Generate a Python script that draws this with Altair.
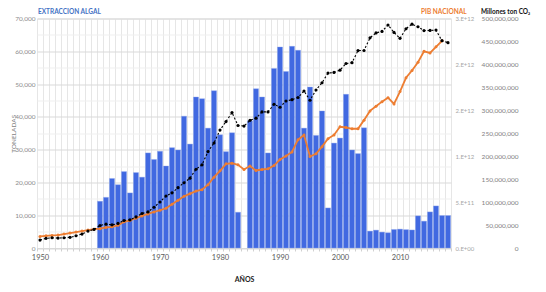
import altair as alt
import pandas as pd

# ---- data ----
YEARS = list(range(1950, 2019))

# Extracción algal (toneladas), 1950-2018 (None = no bar)
ALGAE = [None] * 10 + [
    14240, 15450, 21200, 19300, 23300, 16800, 23000, 21600, 29000, 27000,   # 1960s
    29500, 25000, 30600, 29900, 40200, 31700, 46050, 45550, 36560, 47970,   # 1970s
    34540, 29390, 35150, 10900, None, 38800, 48580, 46060, 28990, 54740,    # 1980s
    61300, 53830, 61500, 60300, 36560, 49090, 34340, 41800, 12220, 32000,   # 1990s
    33530, 46860, 29900, 28790, 36660, 5150, 5450, 4850, 4650, 5650,        # 2000s
    5760, 5600, 5500, 9800, 8180, 11010, 12830, 9900, 9900,                 # 2010s
]

# PIB nacional (miles de millones), 1950-2017
PIB_BN = [
    126.6, 133.1, 137.5, 140.7, 151.5, 162.3, 173.2, 184.0, 194.8, 205.6,
    211.0, 224.0, 230.5, 248.9, 284.6, 299.8, 324.7, 349.6, 371.2, 392.9,
    411.3, 432.9, 476.2, 519.5, 562.8, 592.0, 620.2, 635.3, 689.4, 771.7,
    841.0, 916.7, 923.2, 905.9, 855.0, 892.9, 844.2, 855.0, 862.6, 898.3,
    963.2, 1003.3, 1046.6, 1179.7, 1230.6, 995.7, 1026.0, 1103.9, 1190.5, 1231.7,
    1320.4, 1312.8, 1298.8, 1298.8, 1392.9, 1493.6, 1544.4, 1594.2, 1637.5, 1569.3,
    1704.6, 1854.0, 1934.1, 2023.9, 2142.9, 2124.5, 2191.6, 2256.6, None,
]

# Emisiones CO2 (millones de ton), 1950-2018
CO2_M = [
    17.3, 21.0, 22.3, 21.6, 22.3, 23.2, 26.6, 30.3, 36.8, 40.5,
    49.1, 51.9, 50.4, 53.5, 60.0, 61.3, 67.7, 75.1, 78.6, 88.7,
    100.2, 113.2, 120.1, 131.4, 142.2, 152.2, 171.6, 181.2, 210.0, 228.8,
    256.9, 275.5, 295.0, 266.9, 265.6, 278.1, 282.9, 296.5, 296.5, 313.2,
    306.7, 320.3, 323.2, 327.9, 342.0, 321.9, 344.2, 360.0, 381.0, 382.5,
    387.4, 401.9, 403.7, 430.1, 430.3, 457.8, 468.6, 471.9, 485.9, 469.7,
    456.7, 477.7, 487.7, 482.0, 473.6, 474.0, 474.7, 451.7, 447.4,
]

LEFT_TICKS = list(range(0, 70001, 5000))
PIB_TICKS = [0, 5e11, 1e12, 1.5e12, 2e12, 2.5e12]
PIB_LABELS = ["0.E+00", "5.E+11", "1.E+12", "2.E+12", "2.E+12", "3.E+12"]
CO2_TICKS = list(range(0, 500000001, 50000000))

df = pd.DataFrame({
    "year": YEARS,
    "algae": ALGAE,
    "pib": [None if v is None else v * 1e9 for v in PIB_BN],
    "co2": [v * 1e6 for v in CO2_M],
})

FONT = "Lato"
PLOT_H = 229.5

pib_expr = " : ".join(
    f"datum.value < {(PIB_TICKS[i] + PIB_TICKS[i + 1]) / 2:.0f} ? '{PIB_LABELS[i]}'"
    for i in range(len(PIB_TICKS) - 1)
) + f" : '{PIB_LABELS[-1]}'"

x_enc = alt.X(
    "year:O",
    scale=alt.Scale(domain=YEARS, paddingInner=0.15, paddingOuter=0.075),
    axis=alt.Axis(
        values=YEARS,
        labelExpr="datum.value % 10 == 0 ? datum.label : ''",
        labelAngle=0, labelOverlap=False, labelFlush=False,
        tickBand="extent", grid=True, gridColor="#e6e6e6", gridWidth=1,
        ticks=True, tickSize=3, tickColor="#d0d0d0",
        domainColor="#d9d9d9",
        labelColor="#595959", labelFont=FONT, labelFontSize=7.5, labelPadding=2,
        title="AÑOS", titleFont=FONT, titleFontSize=7, titleFontWeight="bold",
        titleColor="#222222", titleY=31, titleBaseline="middle",
    ),
)

bars = alt.Chart(df).mark_bar(color="#4169E1", stroke="#8ea6f0", strokeWidth=0.4).encode(
    x=x_enc,
    y=alt.Y(
        "algae:Q",
        scale=alt.Scale(domain=[0, 70000], nice=False),
        axis=alt.Axis(
            orient="left", values=LEFT_TICKS, format=",.0f",
            labelExpr="datum.value % 10000 == 0 ? datum.label : ''",
            grid=True,
            gridColor={"condition": {"test": "datum.value % 10000 == 0", "value": "#d9d9d9"},
                       "value": "#efefef"},
            domain=False, ticks=False, tickSize=0, labelPadding=2,
            labelColor="#8c8c8c", labelFont=FONT, labelFontSize=6.5,
            title="TONELADAS", titleFont=FONT, titleFontSize=6.5, titleFontWeight="normal",
            titleColor="#7f7f7f", titleAngle=-90, titleX=-24, titleY=PLOT_H / 2,
            titleAlign="center", titleBaseline="middle",
        ),
    ),
)

pib = alt.Chart(df).mark_line(
    color="#ED7D31", strokeWidth=1.8,
    point=alt.OverlayMarkDef(filled=True, color="#ED7D31", size=9),
).encode(
    x=alt.X("year:O"),
    y=alt.Y(
        "pib:Q",
        scale=alt.Scale(domain=[0, 2.5e12], nice=False),
        axis=alt.Axis(
            orient="right", values=PIB_TICKS, labelExpr=pib_expr,
            grid=False, domain=False, ticks=False, tickSize=0, labelPadding=4,
            labelColor="#a6a6a6", labelFont=FONT, labelFontSize=6, title=None,
        ),
    ),
)

co2 = alt.Chart(df).mark_line(
    color="black", strokeWidth=1.1, strokeDash=[2, 2],
    point=alt.OverlayMarkDef(filled=True, color="black", size=10),
).encode(
    x=alt.X("year:O"),
    y=alt.Y(
        "co2:Q",
        scale=alt.Scale(domain=[0, 5e8], nice=False),
        axis=alt.Axis(
            orient="right", values=CO2_TICKS, format=",.0f",
            grid=False, domain=False, ticks=False, tickSize=0,
            labelAlign="right", labelPadding=67,
            labelColor="#7f7f7f", labelFont=FONT, labelFontSize=6.5, title=None,
        ),
    ),
)


def label(text, xpos, color):
    return alt.Chart(pd.DataFrame({"t": [text]})).mark_text(
        align="left", baseline="top", font=FONT, fontSize=6.5, fontWeight="bold", color=color,
    ).encode(text="t:N", x=alt.value(xpos), y=alt.value(-9.3))


titles = label("EXTRACCIÓN ALGAL", 1, "#4472C4") + label("PIB NACIONAL", 384, "#ED7D31") + \
    label("Millones ton CO₂", 444, "#111111")

chart = alt.layer(bars, pib, co2, titles).resolve_scale(y="independent").properties(
    width=414, height=PLOT_H,
    autosize=alt.AutoSizeParams(type="none"),
    padding={"left": 29, "top": 10.5, "right": 87, "bottom": 36},
).configure_view(stroke="#e0e0e0")

chart.save("out.html", embed_options={"renderer": "svg", "actions": False})
